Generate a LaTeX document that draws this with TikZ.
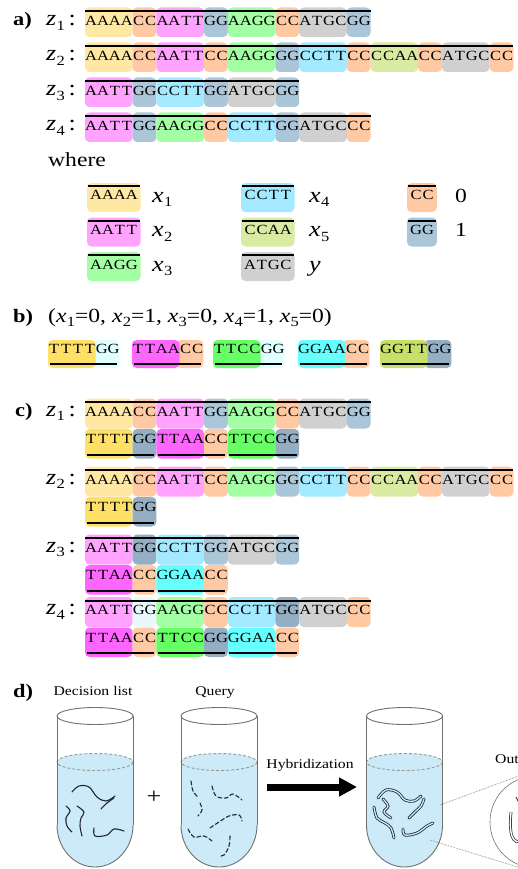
\documentclass[tikz,border=0pt]{standalone}
\usepackage{fontspec}
\setmainfont[FakeStretch=1.18]{Liberation Serif}
\usetikzlibrary{arrows.meta}

% palette: light tints for the upper strands, strong tints for the complements
\definecolor{cA}{HTML}{FFE8A3}
\definecolor{cC}{HTML}{FFC9A3}
\definecolor{cM}{HTML}{FFA3FF}
\definecolor{cG}{HTML}{AAC6D8}
\definecolor{cN}{HTML}{A3FFA3}
\definecolor{cY}{HTML}{A3E9FF}
\definecolor{cL}{HTML}{D9EBA3}
\definecolor{cR}{HTML}{D0D0D0}
\definecolor{sA}{HTML}{FFE066}
\definecolor{sM}{HTML}{FF66FF}
\definecolor{sN}{HTML}{66FF66}
\definecolor{sY}{HTML}{66FFFF}
\definecolor{sL}{HTML}{C8E06A}
\definecolor{sG}{HTML}{94AEC4}
\definecolor{pale}{HTML}{E0FFFF}
\definecolor{paleg}{HTML}{EAF8FC}
\definecolor{liq}{HTML}{CDEAF8}
\definecolor{glassc}{HTML}{707070}
\definecolor{strandc}{HTML}{1E2838}

\newlength\cellw
\setlength\cellw{11.9pt}
\makeatletter
\def\spreadseq#1{\spread@i#1\relax}
\def\spread@i#1{\ifx#1\relax\else\makebox[\cellw]{#1}\expandafter\spread@i\fi}
\makeatother

\newcommand\seqfont{\fontsize{14}{14}\selectfont}
\newcommand\lblfont{\fontsize{22}{22}\selectfont}
\newcommand\subfont{\fontsize{14}{14}\selectfont}
\newcommand\tagfont{\fontsize{19}{19}\selectfont\bfseries}
\newcommand\capfont{\fontsize{13.3}{14}\selectfont}
\newcommand\vsym[2]{\textit{#1}\kern0.3pt\raisebox{-0.45ex}{\subfont #2}}

% coloured segments of one strand: x start, top, bottom, list of length/colour
\newcommand\seqblocks[4]{%
  \xdef\bxpos{#1}%
  \foreach \bn/\bc in {#4}{%
    \pgfmathsetmacro\bxend{\bxpos+\bn*11.9}%
    \fill[blk,fill=\bc] (\bxpos,#2) rectangle (\bxend,#3);%
    \xdef\bxpos{\bxend}%
  }%
}

% test tube with liquid, centred at x
\newcommand\drawtube[1]{%
  \fill[liqfill] (#1,762) ellipse [x radius=38, y radius=8.5];
  \fill[liqfill] (#1-38,762) rectangle (#1+38,825);
  \fill[liqfill] (#1,825) ellipse [x radius=38, y radius=42];
  \draw[surf] (#1,762) ellipse [x radius=38, y radius=8.5];
  \draw[glass] (#1,716) ellipse [x radius=38, y radius=8.5];
  \draw[glass] (#1-38,716) -- (#1-38,825);
  \draw[glass] (#1+38,716) -- (#1+38,825);
  \begin{scope}
    \clip (#1-40,825) rectangle (#1+40,870);
    \draw[glass] (#1,825) ellipse [x radius=38, y radius=42];
  \end{scope}
}

\begin{document}
\begin{tikzpicture}[x=1pt,y=-1pt,
  blk/.style={rounded corners=4.5pt},
  seq/.style={anchor=base west,inner sep=0pt,font=\seqfont},
  bar/.style={line width=2pt,draw=black},
  lbl/.style={anchor=base west,inner sep=0pt,font=\lblfont},
  tag/.style={anchor=base west,inner sep=0pt,font=\tagfont},
  captxt/.style={anchor=base,inner sep=0pt,font=\capfont},
  liqfill/.style={fill=liq},
  surf/.style={draw=black!40,line width=0.9pt,dash pattern=on 3pt off 2pt},
  glass/.style={draw=glassc,line width=0.9pt},
  dna/.style={draw=strandc,line width=1.1pt,line cap=round},
  qdna/.style={dna,dash pattern=on 4pt off 2.5pt},
  hdna/.style={draw=strandc,line width=0.8pt,double=liq,double distance=1.3pt,line cap=round},
  dotline/.style={draw=black!60,line width=0.6pt,densely dotted},
  bigarrow/.style={line width=7pt,-{Triangle[length=18pt,width=18pt]}}]

\useasboundingbox (0,0) rectangle (518,869);
\clip (0,0) rectangle (518,869);

% ---------------- a) strands z1..z4
\node[tag] (ta) at (13,25.5) {a)};

\seqblocks{85}{7.5}{37}{4/cA,2/cC,4/cM,2/cG,4/cN,2/cC,4/cR,2/cG}
\node[seq] (za1) at (85,25.5) {\spreadseq{AAAACCAATTGGAAGGCCATGCGG}};
\draw[bar] (85,11) -- (370.6,11);
\node[lbl] (la1) at (46,25.5) {\vsym{z}{1}\,:};

\seqblocks{85}{42.5}{72}{4/cA,2/cC,4/cM,2/cC,4/cN,2/cG,4/cY,2/cC,4/cL,2/cC,4/cR,2/cC}
\node[seq] (za2) at (85,60.5) {\spreadseq{AAAACCAATTCCAAGGGGCCTTCCCCAACCATGCCC}};
\draw[bar] (85,46) -- (513.4,46);
\node[lbl] (la2) at (46,60.5) {\vsym{z}{2}\,:};

\seqblocks{85}{77.5}{107}{4/cM,2/cG,4/cY,2/cG,4/cR,2/cG}
\node[seq] (za3) at (85,95.5) {\spreadseq{AATTGGCCTTGGATGCGG}};
\draw[bar] (85,81) -- (299.2,81);
\node[lbl] (la3) at (46,95.5) {\vsym{z}{3}\,:};

\seqblocks{85}{112.5}{142}{4/cM,2/cG,4/cN,2/cC,4/cY,2/cG,4/cR,2/cC}
\node[seq] (za4) at (85,130.5) {\spreadseq{AATTGGAAGGCCCCTTGGATGCCC}};
\draw[bar] (85,116) -- (370.6,116);
\node[lbl] (la4) at (46,130.5) {\vsym{z}{4}\,:};

% ---------------- legend
\node[anchor=base west,inner sep=0pt,font=\fontsize{20}{20}\selectfont] (where) at (48,167) {where};

\foreach \lx/\ly/\ln/\lc/\ls/\nm in {87/186/4/cA/AAAA/k1, 87/220.5/4/cM/AATT/k2, 87/255/4/cN/AAGG/k3,
    241/186/4/cY/CCTT/k4, 241/220.5/4/cL/CCAA/k5, 241/255/4/cR/ATGC/k6,
    407/186/2/cC/CC/k7, 407/220.5/2/cG/GG/k8}{
  \fill[blk,fill=\lc] (\lx,\ly-3) rectangle ++(\ln*11.9+6,29);
  \node[seq] (\nm) at (\lx+3,\ly+14) {\expandafter\spreadseq\expandafter{\ls}};
  \draw[bar] (\lx+0.5,\ly) -- ++(\ln*11.9+4.5,0);
}
\node[lbl] (v1) at (152,202) {\vsym{x}{1}};
\node[lbl] (v2) at (152,236.5) {\vsym{x}{2}};
\node[lbl] (v3) at (152,271) {\vsym{x}{3}};
\node[lbl] (v4) at (309,202) {\vsym{x}{4}};
\node[lbl] (v5) at (309,236.5) {\vsym{x}{5}};
\node[lbl] (vy) at (309,271) {\textit{y}};
\node[lbl,font=\fontsize{20}{20}\selectfont] (b0) at (455,202) {0};
\node[lbl,font=\fontsize{20}{20}\selectfont] (b1) at (455,236.5) {1};

% ---------------- b) query strands
\node[tag] (tb) at (13,322.5) {b)};
\node[anchor=base west,inner sep=0pt,font=\fontsize{20}{20}\selectfont] (tuple) at (48,322.5)
  {(\vsym{x}{1}=0, \vsym{x}{2}=1, \vsym{x}{3}=0, \vsym{x}{4}=1, \vsym{x}{5}=0)};

\foreach \qx/\qa/\qb/\qs/\nm in {48/sA/pale/TTTTGG/q1, 132/sM/cC/TTAACC/q2, 213/sN/pale/TTCCGG/q3,
    298/sY/cC/GGAACC/q4, 380/sL/sG/GGTTGG/q5}{
  \fill[blk,fill=\qb] (\qx+44,340) rectangle (\qx+71.4,368);
  \fill[blk,fill=\qa] (\qx,340) rectangle (\qx+47.6,368);
  \node[seq] (\nm) at (\qx,353.5) {\expandafter\spreadseq\expandafter{\qs}};
  \draw[bar] (\qx+2,364) -- (\qx+69,364);
}

% ---------------- c) hybridised strands
\node[tag] (tc) at (15,416.3) {c)};

% z1
\seqblocks{85}{398.5}{428.5}{4/cA,2/cC,4/cM,2/cG,4/cN,2/cC,4/cR,2/cG}
\node[seq] (zc1) at (85,416.3) {\spreadseq{AAAACCAATTGGAAGGCCATGCGG}};
\draw[bar] (85,402) -- (370.6,402);
\node[lbl] (lc1) at (46,416.3) {\vsym{z}{1}\,:};
\seqblocks{85}{429}{458.5}{4/sA,2/sG,4/sM,2/cC,4/sN,2/sG}
\node[seq] (qc1) at (85,443.5) {\spreadseq{TTTTGGTTAACCTTCCGG}};
\draw[bar] (86.5,454.5) -- (154,454.5);
\draw[bar] (157.9,454.5) -- (225.4,454.5);
\draw[bar] (229.3,454.5) -- (296.8,454.5);

% z2
\seqblocks{85}{466.5}{496.5}{4/cA,2/cC,4/cM,2/cC,4/cN,2/cG,4/cY,2/cC,4/cL,2/cC,4/cR,2/cC}
\node[seq] (zc2) at (85,484.3) {\spreadseq{AAAACCAATTCCAAGGGGCCTTCCCCAACCATGCCC}};
\draw[bar] (85,470) -- (513.4,470);
\node[lbl] (lc2) at (46,484.3) {\vsym{z}{2}\,:};
\seqblocks{85}{497}{526.5}{4/sA,2/sG}
\node[seq] (qc2) at (85,511.5) {\spreadseq{TTTTGG}};
\draw[bar] (86.5,522.5) -- (154,522.5);

% z3
\seqblocks{85}{534.5}{564.5}{4/cM,2/sG,4/cY,2/cG,4/cR,2/cG}
\node[seq] (zc3) at (85,552.3) {\spreadseq{AATTGGCCTTGGATGCGG}};
\draw[bar] (85,538) -- (299.2,538);
\node[lbl] (lc3) at (46,552.3) {\vsym{z}{3}\,:};
\seqblocks{85}{565}{594.5}{4/sM,2/cC,4/sY,2/cC}
\node[seq] (qc3) at (85,579.5) {\spreadseq{TTAACCGGAACC}};
\draw[bar] (86.5,590.5) -- (154,590.5);
\draw[bar] (157.9,590.5) -- (225.4,590.5);

% z4
\seqblocks{85}{597}{627}{4/cM,2/paleg,4/cN,2/cC,4/cY,2/sG,4/cR,2/cC}
\node[seq] (zc4) at (85,614.8) {\spreadseq{AATTGGAAGGCCCCTTGGATGCCC}};
\draw[bar] (85,600.5) -- (370.6,600.5);
\node[lbl] (lc4) at (46,614.8) {\vsym{z}{4}\,:};
\seqblocks{85}{627.5}{657}{4/sM,2/cC,4/sN,2/sG,4/sY,2/cC}
\node[seq] (qc4) at (85,642) {\spreadseq{TTAACCTTCCGGGGAACC}};
\draw[bar] (86.5,653) -- (154,653);
\draw[bar] (157.9,653) -- (225.4,653);
\draw[bar] (229.3,653) -- (296.8,653);

% ---------------- d) test tubes
\node[tag] (td) at (13,697) {d)};
\node[captxt] (dl) at (93,695) {Decision list};
\node[captxt] (qy) at (215,695) {Query};

\drawtube{95}
\drawtube{219}
\drawtube{404.5}

% decision-list strands
\draw[dna] plot[smooth,tension=0.6] coordinates {(72,792) (79,786) (89,787) (97,797) (106,801) (115,796)};
\draw[dna] plot[smooth,tension=0.6] coordinates {(101,809) (107,803) (114,798)};
\draw[dna] plot[smooth,tension=0.6] coordinates {(66,806) (70,811) (66,818) (67,826) (72,832)};
\draw[dna] plot[smooth,tension=0.6] coordinates {(77,806) (84,812) (81,818) (80,826) (82,836)};
\draw[dna] plot[smooth,tension=0.6] coordinates {(94,828) (95,836) (107,835) (114,829) (124,831)};

% query strands
\draw[qdna] plot[smooth,tension=0.6] coordinates {(191,781) (193,791) (198,797)};
\draw[qdna] plot[smooth,tension=0.6] coordinates {(212,786) (216,796) (226,798) (233,794) (242,800)};
\draw[qdna] plot[smooth,tension=0.6] coordinates {(200,803) (202,810) (198,816)};
\draw[qdna] plot[smooth,tension=0.6] coordinates {(210,828) (219,822) (229,816) (239,815) (242,821)};
\draw[qdna] plot[smooth,tension=0.6] coordinates {(188,829) (194,837) (204,836) (212,841)};
\draw[qdna] plot[smooth,tension=0.6] coordinates {(230,836) (229,846) (224,855) (219,856)};

% hybridised strands
\draw[hdna] plot[smooth,tension=0.6] coordinates {(378,798) (386,790) (397,792) (405,800) (414,801) (421,796)};
\draw[hdna] plot[smooth,tension=0.6] coordinates {(409,818) (416,811) (421,806) (424,799)};
\draw[hdna] plot[smooth,tension=0.6] coordinates {(383,799) (388,806) (384,812) (391,818)};
\draw[hdna] plot[smooth,tension=0.6] coordinates {(374,807) (377,818) (385,823) (391,828) (394,838)};
\draw[hdna] plot[smooth,tension=0.6] coordinates {(403,829) (405,835) (417,833) (427,826) (433,823)};

\node[anchor=center,inner sep=0pt,font=\fontsize{22}{22}\selectfont] (plus) at (154,797) {+};

\node[captxt] (hyb) at (310,768) {Hybridization};
\coordinate (arrS) at (267,787);
\coordinate (arrE) at (357,787);
\draw[bigarrow] (arrS) -- (arrE);

% magnified output
\node[anchor=base west,inner sep=0pt,font=\capfont] (outp) at (495,763) {Output};
\draw[glass,line width=0.6pt] (536,822) circle [radius=46];
\coordinate (pa) at (440,805);
\coordinate (pb) at (430,840);
\coordinate (ma) at (524,774);
\coordinate (mb) at (524,869);
\draw[dotline] (pa) -- (ma);
\draw[dotline] (pb) -- (mb);
\begin{scope}
  \clip (536,822) circle [radius=46];
  \draw[draw=strandc,line width=0.7pt,double=white,double distance=1.4pt] (511,812) .. controls (508,842) and (516,846) .. (526,838);
  \draw[draw=strandc,line width=0.7pt] (516,797) -- (519,803);
\end{scope}

\end{tikzpicture}
\end{document}
